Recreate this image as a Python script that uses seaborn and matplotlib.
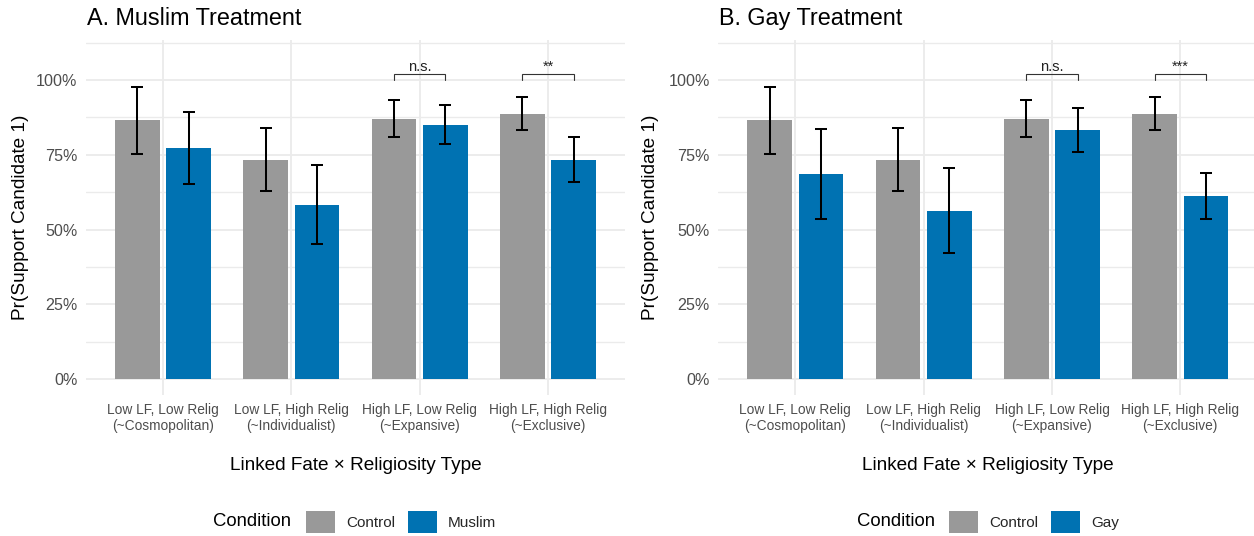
import matplotlib
matplotlib.use("Agg")
import matplotlib.pyplot as plt
import matplotlib.patches as mpatches
from matplotlib.ticker import FixedLocator, FuncFormatter
import numpy as np
import pandas as pd
import seaborn as sns

# ---- data -------------------------------------------------------------
categories = [
    "Low LF, Low Relig\n(~Cosmopolitan)",
    "Low LF, High Relig\n(~Individualist)",
    "High LF, Low Relig\n(~Expansive)",
    "High LF, High Relig\n(~Exclusive)",
]

control_mean = [0.867, 0.733, 0.871, 0.887]
control_lo = [0.753, 0.629, 0.809, 0.833]
control_hi = [0.978, 0.838, 0.934, 0.944]

muslim_mean = [0.773, 0.581, 0.850, 0.733]
muslim_lo = [0.652, 0.451, 0.786, 0.660]
muslim_hi = [0.892, 0.715, 0.917, 0.808]

gay_mean = [0.686, 0.562, 0.834, 0.613]
gay_lo = [0.536, 0.422, 0.759, 0.536]
gay_hi = [0.836, 0.705, 0.906, 0.690]

# significance brackets: (category index, label)
muslim_sig = [(2, "n.s."), (3, "**")]
gay_sig = [(2, "n.s."), (3, "***")]

panel_titles = ["A. Muslim Treatment", "B. Gay Treatment"]
treatment_names = ["Muslim", "Gay"]

# ---- style ------------------------------------------------------------
sns.set_theme(style="white")
plt.rcParams["font.family"] = ["Liberation Sans", "DejaVu Sans"]

GREY = "#999999"
BLUE = "#0072B2"
GRID = "#EBEBEB"
TICK = "#4D4D4D"

W, H = 1254, 536
fig = plt.figure(figsize=(W / 100, H / 100), dpi=100)


def px_axes(x0, y_top, w, h):
    return fig.add_axes([x0 / W, 1 - (y_top + h) / H, w / W, h / H])


panels = [
    dict(x0=86.0, title=panel_titles[0], treat=treatment_names[0],
         mean=muslim_mean, lo=muslim_lo, hi=muslim_hi, sig=muslim_sig,
         ylab_x=20.7, cond_x=213.3, key_x=306.0),
    dict(x0=718.3, title=panel_titles[1], treat=treatment_names[1],
         mean=gay_mean, lo=gay_lo, hi=gay_hi, sig=gay_sig,
         ylab_x=650.7, cond_x=856.7, key_x=949.3),
]

PANEL_W, PANEL_TOP, PANEL_H = 539.0, 40.0, 355.0

for p in panels:
    ax = px_axes(p["x0"], PANEL_TOP, PANEL_W, PANEL_H)

    df = pd.DataFrame({
        "Type": categories * 2,
        "Condition": ["Control"] * 4 + [p["treat"]] * 4,
        "Pr": control_mean + p["mean"],
        "lo": control_lo + p["lo"],
        "hi": control_hi + p["hi"],
    })

    sns.barplot(data=df, x="Type", y="Pr", hue="Condition",
                order=categories, hue_order=["Control", p["treat"]],
                palette=[GREY, BLUE], width=0.8, gap=0.125,
                errorbar=None, saturation=1, linewidth=0,
                legend=False, ax=ax, zorder=2)

    # error bars, placed on the bar centres seaborn laid out
    centres = {}
    for cont, cond in zip(ax.containers, ["Control", p["treat"]]):
        sub = df[df["Condition"] == cond].set_index("Type").loc[categories]
        xs = [b.get_x() + b.get_width() / 2 for b in cont]
        centres[cond] = xs
        ax.errorbar(xs, sub["Pr"],
                    yerr=[sub["Pr"] - sub["lo"], sub["hi"] - sub["Pr"]],
                    fmt="none", ecolor="black", elinewidth=1.45,
                    capsize=4.6, capthick=1.45, zorder=3)

    # significance brackets
    for idx, lab in p["sig"]:
        xa = centres["Control"][idx]
        xb = centres[p["treat"]][idx]
        ax.plot([xa, xa, xb, xb], [1.0, 1.02, 1.02, 1.0],
                color="#333333", lw=0.8, zorder=3, solid_joinstyle="miter")
        ax.text((xa + xb) / 2, 1.03, lab, ha="center", va="baseline",
                fontsize=10.5, color="#222222")

    ax.set_xlim(-0.6, 3.6)
    ax.set_ylim(-0.0535, 1.134)

    ax.yaxis.set_major_locator(FixedLocator([0, 0.25, 0.5, 0.75, 1.0]))
    ax.yaxis.set_minor_locator(FixedLocator([0.125, 0.375, 0.625, 0.875, 1.125]))
    ax.yaxis.set_major_formatter(FuncFormatter(lambda v, _: f"{v * 100:.0f}%"))

    ax.grid(which="major", axis="both", color=GRID, lw=1.3, zorder=0)
    ax.grid(which="minor", axis="y", color=GRID, lw=1.0, zorder=0)
    ax.set_axisbelow(True)
    for s in ax.spines.values():
        s.set_visible(False)

    ax.tick_params(axis="y", which="both", length=0, pad=6.2,
                   labelsize=11.6, labelcolor=TICK)
    ax.tick_params(axis="x", length=0, pad=6.0, labelsize=9.9,
                   labelcolor=TICK)
    for t in ax.get_xticklabels():
        t.set_linespacing(1.15)
        t.set_ha("center")

    ax.set_xlabel("Linked Fate \u00d7 Religiosity Type", fontsize=13.7,
                  color="black", va="center")
    ax.xaxis.set_label_coords(0.5, (395 - 466) / PANEL_H)
    ax.set_ylabel("Pr(Support Candidate 1)", fontsize=13.7,
                  color="black", va="center")
    ax.yaxis.set_label_coords((p["ylab_x"] - p["x0"]) / PANEL_W, 0.5)

    fig.text((p["x0"] + 0.7) / W, 1 - 25 / H, p["title"], fontsize=16.8,
             color="black", ha="left", va="baseline")

    # legend: title on the left, keys in a row
    fig.text(p["cond_x"] / W, 1 - 521.7 / H, "Condition", fontsize=13.3,
             color="black", ha="left", va="center")
    handles = [mpatches.Patch(facecolor=GREY, edgecolor="none", label="Control"),
               mpatches.Patch(facecolor=BLUE, edgecolor="none", label=p["treat"])]
    fig.legend(handles=handles, loc="center left",
               bbox_to_anchor=(p["key_x"] / W, 1 - 522 / H),
               ncol=2, frameon=False, fontsize=11,
               handlelength=1.9, handleheight=1.79, handletextpad=0.72,
               columnspacing=0.85, borderpad=0, borderaxespad=0)

fig.savefig("out.png", dpi=100)
